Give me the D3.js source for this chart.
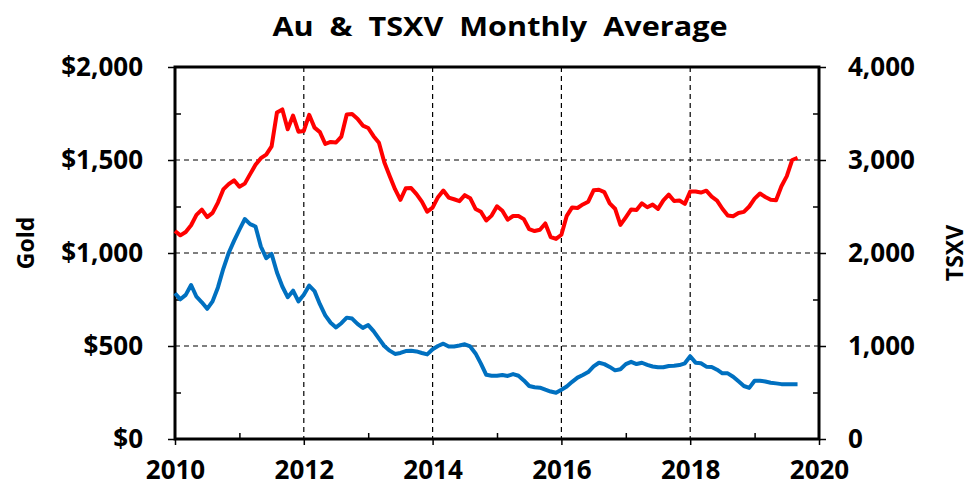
<!DOCTYPE html>
<html>
<head>
<meta charset="utf-8">
<script src="https://cdn.jsdelivr.net/npm/d3@7"></script>
<style>
  body { margin: 0; background: #fff; }
  text { font-family: "Open Sans", Lato, sans-serif; font-weight: bold; fill: #000; }
</style>
</head>
<body>
<div id="chart"></div>
<script>
// monthly averages, Jan 2010 .. Sep 2019
var startYear = 2010;

var gold = [
  1118, 1095, 1113, 1149, 1205, 1233, 1193, 1216, 1271, 1342, 1370, 1391,
  1356, 1373, 1424, 1474, 1510, 1529, 1573, 1756, 1772, 1665, 1739, 1652,
  1656, 1743, 1674, 1650, 1586, 1597, 1594, 1626, 1745, 1747, 1722, 1685,
  1672, 1628, 1593, 1488, 1414, 1343, 1286, 1348, 1349, 1317, 1276, 1222,
  1244, 1300, 1336, 1298, 1289, 1279, 1311, 1295, 1237, 1222, 1175, 1201,
  1251, 1227, 1179, 1199, 1199, 1182, 1128, 1118, 1125, 1159, 1086, 1076,
  1098, 1200, 1245, 1242, 1261, 1276, 1337, 1340, 1327, 1267, 1238, 1151,
  1192, 1234, 1231, 1267, 1246, 1260, 1237, 1283, 1314, 1280, 1282, 1264,
  1331, 1331, 1325, 1335, 1303, 1282, 1238, 1202, 1198, 1215, 1221, 1250,
  1292, 1320, 1301, 1286, 1284, 1359, 1413, 1500, 1511
];

var tsxv = [
  1567, 1502, 1550, 1656, 1530, 1470, 1400, 1480, 1630, 1830, 2000, 2130,
  2250, 2365, 2310, 2285, 2070, 1945, 1990, 1790, 1640, 1525, 1595, 1480,
  1550, 1650, 1590, 1450, 1330, 1250, 1200, 1245, 1305, 1295, 1237, 1195,
  1225, 1160, 1080, 1000, 950, 915, 925, 945, 950, 942, 925, 910,
  965, 1000, 1025, 995, 995, 1005, 1018, 995, 920, 810, 690, 680,
  680, 688, 678, 698, 680, 630, 570, 556, 552, 530, 510, 498,
  530, 565, 615, 660, 688, 720, 780, 820, 805, 775, 738, 750,
  805, 830, 806, 820, 797, 780, 771, 771, 785, 788, 795, 814,
  890, 821, 815, 778, 775, 745, 706, 706, 670, 620, 570, 550,
  627, 627, 618, 605, 598, 590, 590, 590, 590
];

var yearTicks = [2010, 2012, 2014, 2016, 2018, 2020];
var goldTicks = [0, 500, 1000, 1500, 2000];
var tsxvTicks = [0, 1000, 2000, 3000, 4000];

var svgWidth = 969;
var svgHeight = 490;
var margin = { top: 67, right: 150, bottom: 51, left: 175 };
var width = svgWidth - margin.left - margin.right;
var height = svgHeight - margin.top - margin.bottom;

var svg = d3.select("#chart")
  .append("svg")
  .attr("width", svgWidth)
  .attr("height", svgHeight);

var chartGroup = svg.append("g")
  .attr("transform", `translate(${margin.left}, ${margin.top})`);

var x = d3.scaleLinear().domain([2010, 2020]).range([0, width]);
var yGold = d3.scaleLinear().domain([0, 2000]).range([height, 0]);
var yTsxv = d3.scaleLinear().domain([0, 4000]).range([height, 0]);

var monthX = (d, i) => x(startYear + i / 12);

// dashed grid
chartGroup.append("g")
  .selectAll("line")
  .data(yearTicks.slice(1, -1))
  .enter()
  .append("line")
  .attr("x1", d => x(d)).attr("x2", d => x(d))
  .attr("y1", 0).attr("y2", height)
  .attr("stroke", "#000").attr("stroke-width", 1.2)
  .attr("stroke-dasharray", "5,4");

chartGroup.append("g")
  .selectAll("line")
  .data(goldTicks.slice(1, -1))
  .enter()
  .append("line")
  .attr("x1", 0).attr("x2", width)
  .attr("y1", d => yGold(d)).attr("y2", d => yGold(d))
  .attr("stroke", "#000").attr("stroke-width", 1.2)
  .attr("stroke-dasharray", "5,4");

// axes
var bottomAxis = chartGroup.append("g")
  .attr("transform", `translate(0, ${height})`)
  .call(d3.axisBottom(x).tickValues(yearTicks).tickFormat(d3.format("d"))
    .tickSizeInner(6).tickSizeOuter(0).tickPadding(16));

var bottomMinor = chartGroup.append("g")
  .attr("transform", `translate(0, ${height})`)
  .call(d3.axisBottom(x).tickValues([2011, 2013, 2015, 2017, 2019])
    .tickSizeInner(-6).tickSizeOuter(0).tickFormat(""));

var leftAxis = chartGroup.append("g")
  .call(d3.axisLeft(yGold).tickValues(goldTicks)
    .tickFormat(d => "$" + d3.format(",")(d))
    .tickSizeInner(7).tickSizeOuter(0).tickPadding(25));

var leftMinor = chartGroup.append("g")
  .call(d3.axisLeft(yGold).tickValues([250, 750, 1250, 1750])
    .tickSizeInner(-6).tickSizeOuter(0).tickFormat(""));

var rightAxis = chartGroup.append("g")
  .attr("transform", `translate(${width}, 0)`)
  .call(d3.axisRight(yTsxv).tickValues(tsxvTicks).tickFormat(d3.format(","))
    .tickSizeInner(7).tickSizeOuter(0).tickPadding(22));

var rightMinor = chartGroup.append("g")
  .attr("transform", `translate(${width}, 0)`)
  .call(d3.axisRight(yTsxv).tickValues([500, 1500, 2500, 3500])
    .tickSizeInner(-6).tickSizeOuter(0).tickFormat(""));

[bottomAxis, bottomMinor, leftAxis, leftMinor, rightAxis, rightMinor].forEach(function(g) {
  g.select(".domain").remove();
  g.selectAll("line").attr("stroke", "#000").attr("stroke-width", 1.5);
  g.selectAll("text")
    .style("font-family", "'Open Sans', Lato, sans-serif")
    .style("font-weight", "bold")
    .style("font-size", "26px")
    .attr("fill", "#000");
});

// frame
chartGroup.append("rect")
  .attr("x", 0).attr("y", 0)
  .attr("width", width).attr("height", height)
  .attr("fill", "none")
  .attr("stroke", "#000")
  .attr("stroke-width", 3);

// lines
var goldLine = d3.line()
  .x(monthX)
  .y(d => yGold(d));

var tsxvLine = d3.line()
  .x(monthX)
  .y(d => yTsxv(d));

chartGroup.append("path")
  .datum(gold)
  .attr("d", goldLine)
  .attr("fill", "none")
  .attr("stroke", "#ff0000")
  .attr("stroke-width", 4)
  .attr("stroke-linejoin", "round");

chartGroup.append("path")
  .datum(tsxv)
  .attr("d", tsxvLine)
  .attr("fill", "none")
  .attr("stroke", "#0070c0")
  .attr("stroke-width", 4)
  .attr("stroke-linejoin", "round");

// title and axis labels
svg.append("text")
  .attr("x", 500)
  .attr("y", 36)
  .attr("text-anchor", "middle")
  .attr("xml:space", "preserve")
  .attr("textLength", 455)
  .attr("lengthAdjust", "spacingAndGlyphs")
  .style("font-size", "27px")
  .style("white-space", "pre")
  .text("Au  &  TSXV  Monthly  Average");

svg.append("text")
  .attr("transform", "translate(34, 243) rotate(-90)")
  .attr("text-anchor", "middle")
  .style("font-size", "23px")
  .text("Gold");

svg.append("text")
  .attr("transform", "translate(963, 253) rotate(-90)")
  .attr("text-anchor", "middle")
  .style("font-size", "23px")
  .text("TSXV");
</script>
</body>
</html>
